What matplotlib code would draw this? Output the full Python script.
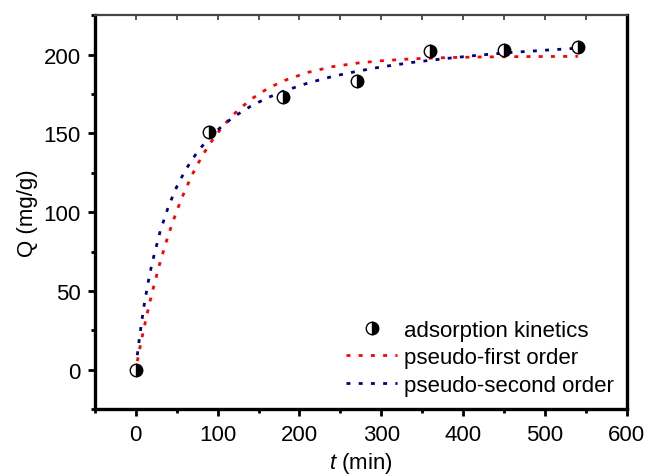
import matplotlib
matplotlib.use("Agg")
import matplotlib.pyplot as plt
from matplotlib.ticker import MultipleLocator

plt.rcParams['font.family'] = ['Liberation Sans', 'DejaVu Sans']
plt.rcParams['mathtext.fontset'] = 'custom'
plt.rcParams['mathtext.it'] = 'Liberation Sans:italic'
plt.rcParams['mathtext.rm'] = 'Liberation Sans'

# experimental data
t_data = [0, 90, 180, 270, 360, 450, 540]
q_data = [0, 151, 173, 183, 202, 203, 205]

# fitted curves
t_fit = [2, 5, 10, 15, 20, 30, 40, 50, 60, 70, 80, 90, 105, 120, 140, 160, 180,
         210, 240, 270, 300, 340, 380, 420, 460, 500, 540]
q_pfo = [5.5, 13.6, 26.2, 37.9, 48.9, 68.6, 85.8, 100.7, 113.6, 124.8, 134.6, 143.1,
         153.7, 162.3, 171.4, 178.1, 183.3, 188.7, 192.3, 194.6, 196.1, 197.4, 198.1,
         198.5, 198.7, 198.8, 198.9]
q_pso = [9.3, 22.0, 40.0, 55.0, 67.7, 88.1, 103.7, 116.0, 126.0, 134.3, 141.2, 147.1,
         154.5, 160.6, 167.1, 172.4, 176.7, 181.9, 186.1, 189.4, 192.2, 195.2, 197.6,
         199.7, 201.4, 202.8, 204.1]

FS = 16

fig = plt.figure(figsize=(6.49, 4.77), dpi=100)
ax = fig.add_axes([0.146, 0.140, 0.820, 0.826])

ls = (0, (1.4, 3.0))
ax.plot(t_fit, q_pfo, color='#FF0000', lw=2, linestyle=ls, label='pseudo-first order', zorder=2)
ax.plot(t_fit, q_pso, color='#000080', lw=2, linestyle=ls, label='pseudo-second order', zorder=2)
ax.plot(t_data, q_data, linestyle='none', marker='o', markersize=9, fillstyle='right',
        markerfacecolor='black', markerfacecoloralt='white', markeredgecolor='black',
        markeredgewidth=1, label='adsorption kinetics', zorder=3)

ax.set_xlim(-50, 600)
ax.set_ylim(-25, 225)
ax.xaxis.set_major_locator(MultipleLocator(100))
ax.xaxis.set_minor_locator(MultipleLocator(50))
ax.yaxis.set_major_locator(MultipleLocator(50))
ax.yaxis.set_minor_locator(MultipleLocator(25))

ax.tick_params(axis='both', which='major', direction='out', length=5, width=2,
               labelsize=FS, color='black')
ax.tick_params(axis='x', which='major', pad=6)
ax.tick_params(axis='y', which='major', pad=5)
ax.tick_params(axis='both', which='minor', direction='out', length=3, width=2)
ax.tick_params(top=False, right=False, which='both')

# inward ticks on the top
sec = ax.secondary_xaxis('top')
sec.xaxis.set_major_locator(MultipleLocator(50))
sec.tick_params(direction='in', length=3.5, width=1.2, color='#333333',
                labelsize=0, labeltop=False)
sec.spines['top'].set_visible(False)

for s in ax.spines.values():
    s.set_linewidth(2.4)
    s.set_color('black')
ax.spines['top'].set_color('#444444')
ax.spines['top'].set_linewidth(1.6)

ax.set_xlabel('$t$ (min)', fontsize=FS, labelpad=3)
ax.set_ylabel('Q (mg/g)', fontsize=FS, labelpad=4)

h, l = ax.get_legend_handles_labels()
order = [2, 0, 1]
ax.legend([h[i] for i in order], [l[i] for i in order], loc='lower right',
          frameon=False, fontsize=FS, handlelength=2.3, handletextpad=0.3,
          labelspacing=0.3, borderaxespad=0.2, bbox_to_anchor=(1.0, 0.0))

fig.savefig('out.png', dpi=100)
